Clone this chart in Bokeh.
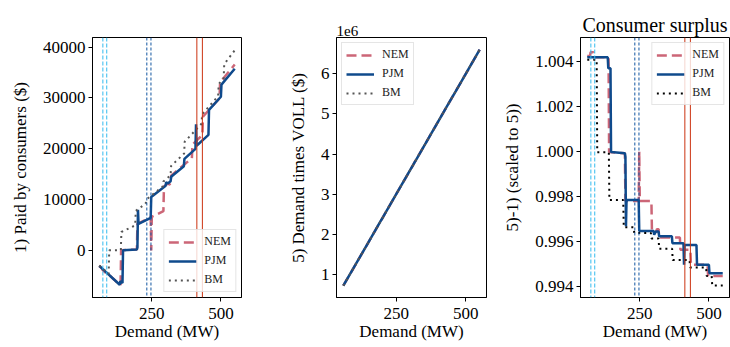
from bokeh.plotting import figure
from bokeh.layouts import row
from bokeh.models import (Range1d, FixedTicker, Span, NumeralTickFormatter,
                          CustomJSTickFormatter)
from bokeh.embed import file_html
from bokeh.resources import INLINE

# ---------------- data ----------------
VOLL = 12000  # $/MWh

demand_nem = [60, 70, 72, 82, 84, 137, 139, 196, 198, 246, 248, 250, 292, 294,
              310, 312, 318, 320, 395, 397, 433, 435, 495, 497, 550]
price_nem = [-51, -51, -53, -53, -50.3, -50.3, 0.3, 1.0, 26.5, 26.5, 0, 26.5, 26.5, 42.8,
             42.8, 41.5, 41.5, 46, 46, 52.5, 52.5, 60.5, 60.5, 66.5, 66.5]

demand_pjm = [60, 134, 136, 144, 146, 196, 198, 200, 202, 246, 248, 300, 302, 308,
              318, 320, 366, 368, 408, 410, 412, 455, 457, 500, 502, 550]
price_pjm = [-50.3, -50.3, -44.4, -44.4, 0.3, 1.0, 3.0, 40, 26, 26, 42.5, 42.5, 44.5, 42.8,
             42.8, 45.3, 45.3, 49, 49, 60.5, 50, 50, 60.5, 60.5, 65, 65]

demand_bm = [60, 94, 96, 138, 140, 190, 192, 228, 230, 290, 292, 318, 320, 367,
             369, 430, 432, 490, 492, 510, 512, 550]
price_bm = [-49, -49, 0.4, 0.4, 26, 26, 40.5, 40.5, 43.5, 43.5, 46.5, 46.5, 52, 52,
            58, 58, 62, 62, 66.5, 66.5, 71.6, 71.6]

vlines_cyan = [73, 87]
vlines_blue = [232, 247]
vlines_red = [413, 433]

x_ticks = [250, 500]
y1_ticks = [0, 10000, 20000, 30000, 40000]
y2_ticks = [1e6, 2e6, 3e6, 4e6, 5e6, 6e6]
y3_ticks = [0.994, 0.996, 0.998, 1.000, 1.002, 1.004]

series = [
    ("NEM", demand_nem, price_nem),
    ("PJM", demand_pjm, price_pjm),
    ("BM", demand_bm, price_bm),
]

# ---------------- styling ----------------
FONT = "Liberation Serif"
C_NEM = "#cc6677"
C_PJM = "#0f4a8c"
C_BM_GRAY = "#555555"
C_BM_BLACK = "#000000"
C_CYAN = "#33bbee"
C_BLUE = "#1155a0"
C_RED = "#cc3311"
H = 347


def make_fig(width, left, right, ylabel, yr, title=None):
    kw = dict(width=width, height=H, output_backend="svg", toolbar_location=None,
              x_range=Range1d(35.5, 574.5), y_range=Range1d(*yr),
              min_border_left=left, min_border_right=right,
              min_border_top=37, min_border_bottom=50,
              background_fill_color="white", border_fill_color="white")
    if title is not None:
        kw["title"] = title
    p = figure(**kw)
    p.xgrid.visible = False
    p.ygrid.visible = False
    p.outline_line_color = "black"
    p.outline_line_width = 1
    p.outline_line_alpha = 1
    for ax in (p.xaxis[0], p.yaxis[0]):
        ax.axis_line_color = "black"
        ax.major_tick_in = 0
        ax.major_tick_out = 4
        ax.minor_tick_in = 0
        ax.minor_tick_out = 0
        ax.major_label_text_font = FONT
        ax.major_label_text_font_size = "17px"
        ax.major_label_text_color = "black"
        ax.axis_label_text_font = FONT
        ax.axis_label_text_font_size = "17px"
        ax.axis_label_text_font_style = "normal"
        ax.axis_label_text_color = "black"
    p.xaxis.axis_label = "Demand (MW)"
    p.xaxis.major_label_standoff = 6
    p.xaxis.axis_label_standoff = 0
    p.yaxis.axis_label = ylabel
    p.yaxis.major_label_standoff = 3
    p.yaxis.axis_label_standoff = 10
    p.xaxis.ticker = FixedTicker(ticks=x_ticks)
    if title is not None:
        p.title.text_font = FONT
        p.title.text_font_style = "normal"
        p.title.text_color = "black"
        p.title.standoff = 4
    return p


def style_legend(p, loc):
    lg = p.legend[0]
    lg.location = loc
    lg.label_text_font = FONT
    lg.label_text_font_size = "12px"
    lg.label_text_color = "#222222"
    lg.glyph_width = 28
    lg.glyph_height = 14
    lg.label_height = 14
    lg.label_standoff = 8
    lg.spacing = 4
    lg.padding = 4
    lg.margin = 5
    lg.border_line_color = "#cccccc"
    lg.border_line_width = 1
    lg.background_fill_alpha = 0.8


def add_vlines(p):
    for x in vlines_cyan:
        p.add_layout(Span(location=x, dimension="height", line_color=C_CYAN,
                          line_width=1, line_dash="4 2"))
    for x in vlines_blue:
        p.add_layout(Span(location=x, dimension="height", line_color=C_BLUE,
                          line_width=1, line_dash="3 2"))
    for x in vlines_red:
        p.add_layout(Span(location=x, dimension="height", line_color=C_RED,
                          line_width=1))


def draw_series(p, yfun, bm_color):
    styles = {
        "NEM": dict(line_color=C_NEM, line_width=2.5, line_dash="10 5"),
        "PJM": dict(line_color=C_PJM, line_width=2.5),
        "BM": dict(line_color=bm_color, line_width=2, line_dash="2 4"),
    }
    for name, d, pr in series:
        ys = [yfun(di, pi) for di, pi in zip(d, pr)]
        p.line(d, ys, legend_label=name, **styles[name])


# ---- panel 1: paid by consumers ----
p1 = make_fig(250, 92, 9, "1) Paid by consumers ($)", (-9250, 41900))
p1.yaxis.ticker = FixedTicker(ticks=y1_ticks)
p1.yaxis.formatter = NumeralTickFormatter(format="0")
add_vlines(p1)
draw_series(p1, lambda d, pr: d * pr, C_BM_GRAY)
style_legend(p1, "bottom_right")

# ---- panel 2: demand times VOLL ----
p2 = make_fig(245, 86, 9, "5) Demand times VOLL ($)", (0.427e6, 6.905e6), title="1e6")
p2.title.align = "left"
p2.title.text_font_size = "15px"
p2.yaxis.ticker = FixedTicker(ticks=y2_ticks)
p2.yaxis.formatter = CustomJSTickFormatter(code="return (tick/1e6).toFixed(0);")
draw_series(p2, lambda d, pr: d * VOLL, C_BM_GRAY)
style_legend(p2, "top_left")

# ---- panel 3: consumer surplus ----
p3 = make_fig(235, 85, 1, "5)-1) (scaled to 5))", (0.9935, 1.00507), title="Consumer surplus")
p3.title.align = "center"
p3.title.text_font_size = "20px"
p3.yaxis.ticker = FixedTicker(ticks=y3_ticks)
p3.yaxis.formatter = NumeralTickFormatter(format="0.000")
add_vlines(p3)
draw_series(p3, lambda d, pr: (d * VOLL - d * pr) / (d * VOLL), C_BM_BLACK)
style_legend(p3, "top_right")

layout = row(p1, p2, p3, spacing=0)

open("out.html", "w").write(file_html(layout, INLINE))
